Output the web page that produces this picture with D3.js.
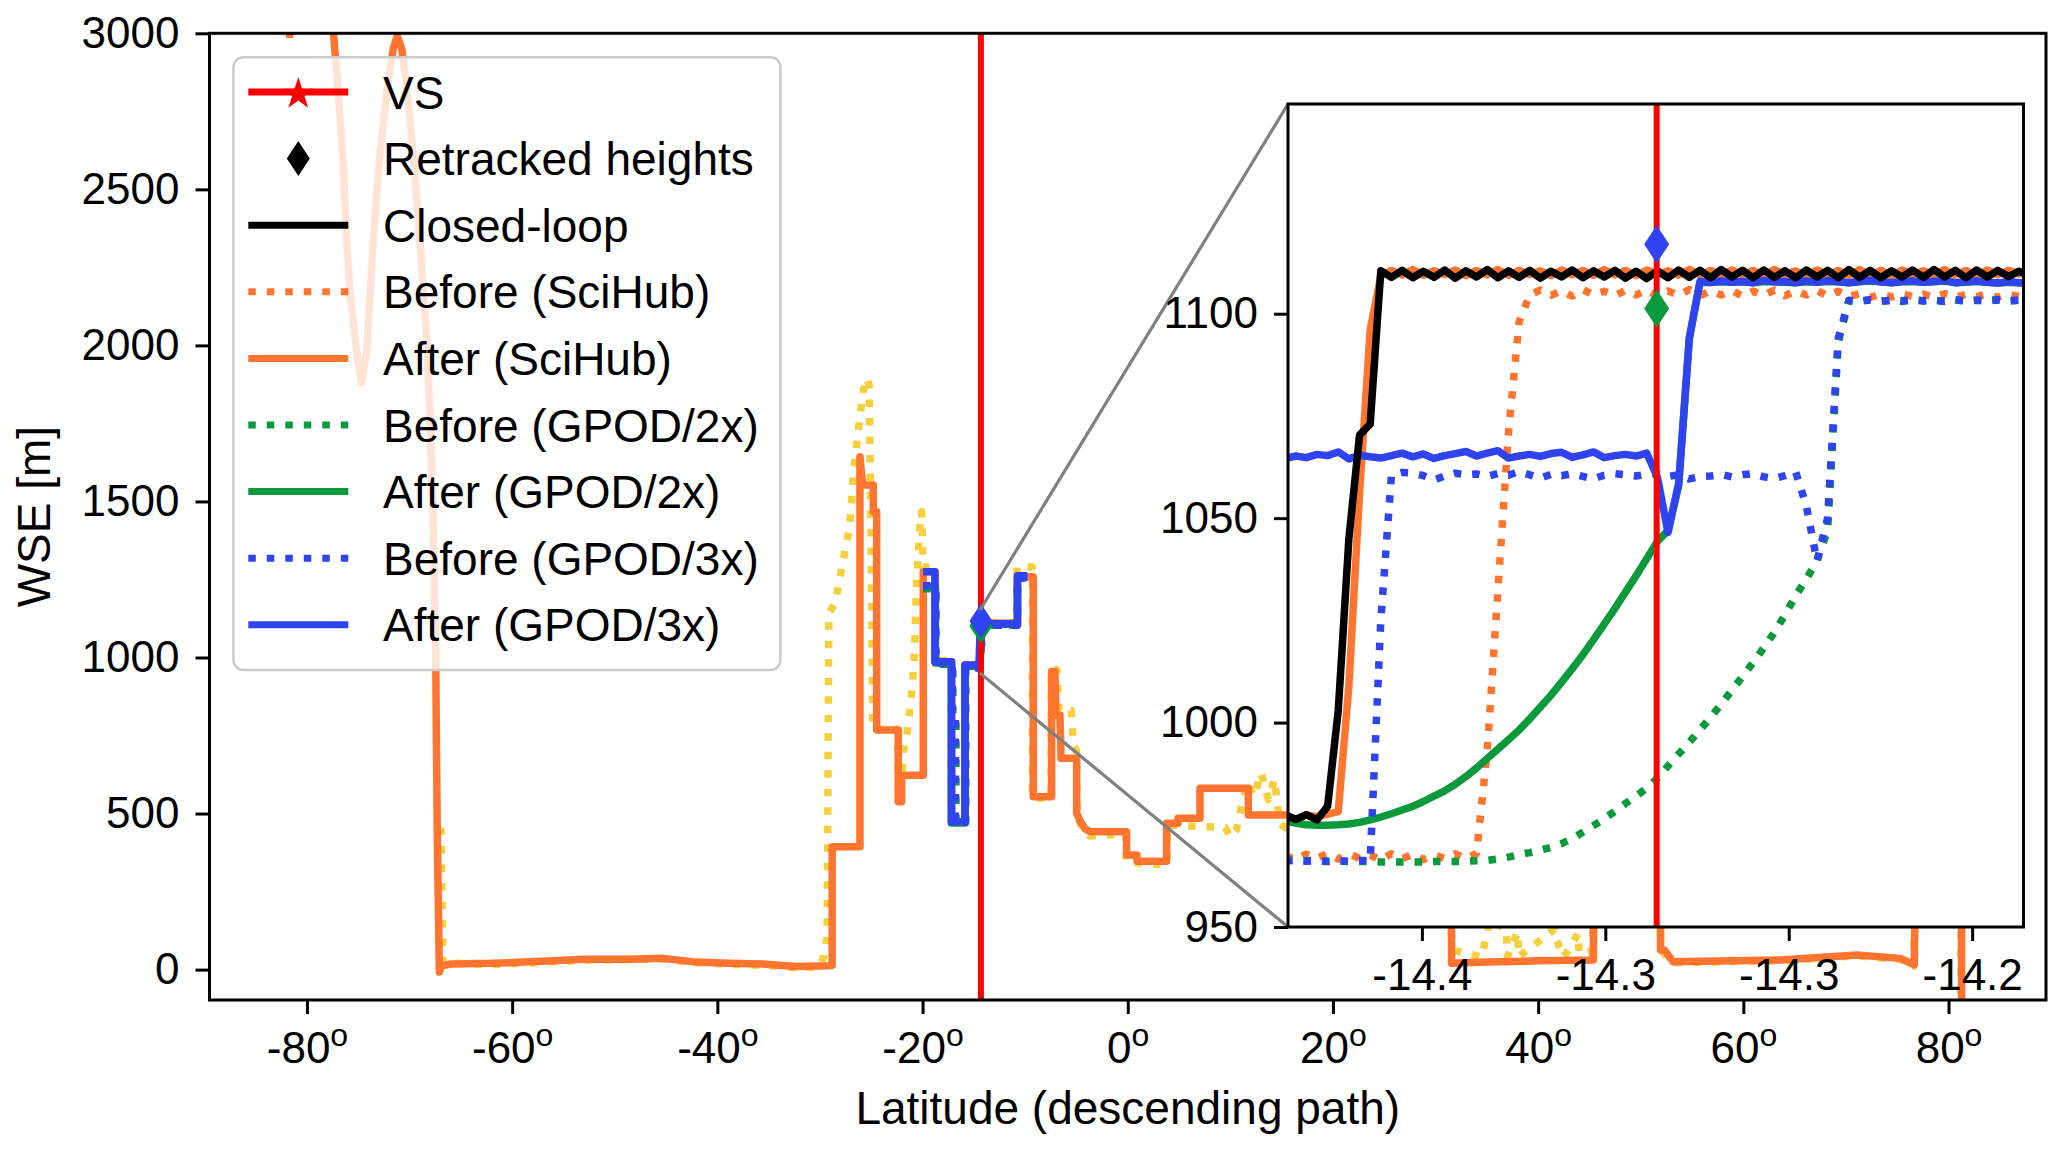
<!DOCTYPE html>
<html>
<head>
<meta charset="utf-8">
<script src="https://cdn.jsdelivr.net/npm/d3@7"></script>
<style>
  body { margin: 0; background: #fff; }
  text { font-family: "Liberation Sans", Arial, Helvetica, sans-serif; }
</style>
</head>
<body>
<div id="visualization"></div>
<script>
// ---- data (latitude in degrees, WSE in metres) ----
var xLimits = [-89.5, 89.5];
var yLimits = [-97.4, 3000];
var xTicks = [-80, -60, -40, -20, 0, 20, 40, 60, 80];
var xTickLabels = ["-80", "-60", "-40", "-20", "0", "20", "40", "60", "80"];
var yTicks = [0, 500, 1000, 1500, 2000, 2500, 3000];

var insetXLimits = [-14.4115, -14.2110];
var insetYLimits = [950, 1151.3];
var insetXTicks = [-14.375, -14.325, -14.275, -14.225];
var insetXTickLabels = ["-14.4", "-14.3", "-14.3", "-14.2"];
var insetYTicks = [950, 1000, 1050, 1100];

var vsLat = -14.311;
var retrackedHeights = [1101.3, 1117.0]; // GPOD/2x, GPOD/3x

// full track (main panel)
var afterSciHubMain = [[-81.7, 2985], [-81.5, 3100], [-79.5, 3600], [-77.8, 3150], [-77.44, 3010], [-76.95, 2812],
  [-76.46, 2575], [-76.13, 2336], [-75.81, 2178], [-75.16, 1980], [-74.67, 1880], [-74.18, 1980], [-73.86, 2158],
  [-73.54, 2336], [-72.89, 2614], [-72.23, 2812], [-71.59, 2951], [-71.2, 2991], [-70.77, 2951], [-70.28, 2832],
  [-69.64, 2614], [-68.99, 2336], [-68.33, 2019], [-68.01, 1781], [-67.69, 1425], [-67.46, 1028], [-67.3, 433],
  [-67.1, -8], [-66.9, 12], [-65.97, 18], [-62, 20], [-58.86, 24], [-56, 28], [-53.04, 33], [-48.52, 33], [-45.3, 36],
  [-42.06, 24], [-38.83, 20], [-35.6, 18], [-32.36, 10], [-29.13, 12], [-28.81, 14], [-28.81, 394], [-26.1, 394],
  [-26.1, 1643], [-25.85, 1553], [-24.8, 1553], [-24.8, 1467], [-24.47, 1467], [-24.47, 768], [-22.37, 768],
  [-22.37, 538], [-22.04, 538], [-22.04, 623], [-19.93, 623], [-19.93, 1275], [-18.79, 1275], [-18.79, 986],
  [-17.17, 986], [-17.17, 474], [-15.87, 474], [-15.87, 976], [-14.42, 977], [-14.39, 1110], [-10.75, 1110],
  [-10.75, 1259], [-9.21, 1259], [-9.21, 554], [-7.42, 554], [-7.42, 955], [-7.1, 955], [-7.0, 816], [-6.61, 816],
  [-6.5, 677], [-4.98, 677], [-4.98, 501], [-4.66, 478], [-4.2, 452], [-3.69, 442], [-0.11, 442], [-0.11, 367],
  [0.9, 367], [0.9, 347], [3.79, 347], [3.79, 469], [4.9, 469], [4.9, 485], [7.04, 485], [7.04, 581], [11.75, 581],
  [11.75, 495], [15.49, 495], [18.0, 510], [22.0, 530], [26.0, 505], [31.56, 500], [31.56, 20], [35.0, 24],
  [40.0, 28], [45.38, 31], [45.5, 520], [51.93, 520], [51.93, 63], [52.3, 63], [53.15, 25], [63.6, 31], [71.07, 47],
  [75.3, 36], [76.66, 15], [76.9, 540], [81.27, 540], [81.27, -400]];

var beforeYellowMain = [[-66.95, 455], [-66.75, 22], [-62, 16], [-58.86, 20], [-53.04, 30], [-45.3, 34], [-42.06, 22],
  [-38.83, 17], [-35.6, 14], [-32.36, 6], [-30.0, 8], [-29.6, 45], [-29.3, 103], [-29.13, 1140], [-28.5, 1178],
  [-27.8, 1300], [-27.1, 1420], [-26.7, 1600], [-26.3, 1720], [-25.8, 1850], [-25.45, 1895], [-25.2, 1870],
  [-25.1, 1600], [-25.0, 1300], [-24.85, 770], [-22.45, 770], [-22.4, 600], [-22.1, 560], [-21.9, 700],
  [-21.55, 746], [-21.06, 885], [-20.8, 1000], [-20.58, 1238], [-20.3, 1400], [-20.09, 1467], [-19.95, 1290],
  [-18.8, 1290], [-18.8, 990], [-17.2, 990], [-17.2, 478], [-15.85, 478], [-15.85, 980], [-14.5, 980],
  [-14.42, 1060], [-14.3, 1112], [-10.8, 1112], [-10.8, 1290], [-9.3, 1290], [-9.3, 550], [-7.5, 550], [-7.45, 970],
  [-6.9, 960], [-6.7, 830], [-5.5, 830], [-5.3, 722], [-5.0, 700], [-4.9, 485], [-4.5, 460], [-3.7, 428],
  [-0.2, 435], [-0.15, 345], [3.8, 335], [3.9, 463], [7.5, 458], [9.5, 455], [10.0, 425], [10.6, 448], [11.6, 600],
  [12.3, 555], [13.0, 630], [13.7, 545], [14.3, 610], [14.8, 470], [15.3, 455], [18, 500], [25, 480], [30.9, 470],
  [31.2, 150], [32.0, 60], [34.5, 40], [35.3, 160], [36.9, 127], [37.0, 41], [38.0, 120], [38.1, 41], [41.6, 130],
  [41.8, 95], [42.5, 40], [43.9, 116], [44.0, 52], [45.3, 60], [45.45, 480], [51.85, 480], [51.95, 63], [53.1, 22],
  [63.6, 28], [71.0, 44], [75.3, 33], [76.6, 12], [76.85, 500], [81.2, 500], [81.2, -400]];

var before2xMain = [[-19.95, 1220], [-18.72, 1220], [-18.72, 978], [-17.05, 978], [-17.05, 821], [-16.75, 821],
  [-16.75, 468], [-15.8, 468], [-15.8, 968], [-14.4, 966], [-14.25, 1050], [-14.22, 1103], [-10.75, 1103],
  [-10.75, 1254], [-9.8, 1254]];
var after2xMain = [[-19.95, 1225], [-18.75, 1225], [-18.75, 982], [-17.2, 982], [-17.2, 470], [-15.85, 470],
  [-15.85, 972], [-14.5, 972], [-14.41, 976], [-14.3, 1046], [-14.27, 1107], [-10.75, 1106], [-10.75, 1258],
  [-9.8, 1258]];
var before3xMain = [[-19.95, 1230], [-18.7, 1230], [-18.7, 982], [-17.1, 982], [-17.1, 830], [-16.8, 830],
  [-16.8, 472], [-15.82, 472], [-15.82, 970], [-14.41, 966], [-14.4, 1060], [-14.26, 1060], [-14.24, 1040],
  [-14.22, 1103], [-10.75, 1103], [-10.75, 1256], [-9.8, 1256]];
var after3xMain = [[-19.95, 1275], [-18.79, 1275], [-18.79, 986], [-17.17, 986], [-17.17, 474], [-15.87, 474],
  [-15.87, 976], [-14.5, 976], [-14.41, 1065], [-14.312, 1066], [-14.3, 1046], [-14.27, 1108], [-10.75, 1108],
  [-10.75, 1262], [-9.8, 1262]];

// zoom around the virtual station (inset), one value per along-track record
var insetLat = [-14.4123, -14.4094, -14.4065, -14.4036, -14.4007, -14.3978, -14.3949, -14.3920, -14.3891, -14.3862,
  -14.3833, -14.3804, -14.3775, -14.3746, -14.3717, -14.3688, -14.3659, -14.3630, -14.3601, -14.3572,
  -14.3543, -14.3514, -14.3485, -14.3456, -14.3427, -14.3398, -14.3369, -14.3340, -14.3311, -14.3282,
  -14.3253, -14.3224, -14.3195, -14.3166, -14.3137, -14.3108, -14.3079, -14.3050, -14.3021, -14.2992,
  -14.2963, -14.2934, -14.2905, -14.2876, -14.2847, -14.2818, -14.2789, -14.2760, -14.2731, -14.2702,
  -14.2673, -14.2644, -14.2615, -14.2586, -14.2557, -14.2528, -14.2499, -14.2470, -14.2441, -14.2412,
  -14.2383, -14.2354, -14.2325, -14.2296, -14.2267, -14.2238, -14.2209, -14.2180, -14.2151, -14.2122,
  -14.2093];

var closedLoop = [977.5, 976.3, 977.5, 976.2, 979.5, 1003, 1045, 1070.3, 1073, 1110.5,
  1108.9, 1110.6, 1108.8, 1110.4, 1108.9, 1110.7, 1108.7, 1110.5, 1109.0, 1110.8,
  1108.8, 1110.5, 1108.9, 1110.6, 1108.7, 1110.4, 1109.0, 1110.7, 1108.8, 1110.5,
  1109.0, 1110.6, 1108.7, 1110.4, 1108.6, 1110.5, 1108.8, 1110.7, 1108.9, 1110.6,
  1108.8, 1110.8, 1109.0, 1110.6, 1108.8, 1110.7, 1108.9, 1110.5, 1108.8, 1110.7,
  1109.0, 1110.6, 1108.8, 1110.8, 1108.9, 1110.6, 1108.8, 1110.5, 1109.0, 1110.7,
  1108.9, 1110.8, 1109.0, 1110.6, 1108.8, 1110.7, 1109.0, 1110.6, 1109.1, 1110.4,
  1109.3];
var beforeSciHub = [967.4, 966.5, 967.8, 966.8, 968.0, 966.6, 967.9, 966.8, 967.6, 966.4,
  967.9, 966.7, 967.8, 966.5, 967.6, 966.8, 967.9, 966.7, 968.0, 993,
  1032, 1071, 1098, 1104.6, 1105.8, 1104.5, 1105.6, 1104.3, 1105.9, 1104.6,
  1105.5, 1104.4, 1105.7, 1104.6, 1105.8, 1104.3, 1105.6, 1104.5, 1105.9, 1104.4,
  1105.6, 1104.6, 1105.7, 1104.3, 1105.5, 1104.5, 1105.8, 1104.4, 1105.6, 1104.6,
  1105.7, 1104.3, 1105.5, 1104.2, 1104.9, 1104.0, 1104.8, 1104.1, 1104.9, 1104.2,
  1104.8, 1104.0, 1104.9, 1104.1, 1104.7, 1104.2, 1104.9, 1104.0, 1104.8, 1104.2,
  1104.6];
var afterSciHub = [977.2, 976.2, 977.4, 977.0, 977.6, 978.2, 1009, 1056, 1096, 1109.3,
  1110.6, 1109.5, 1110.8, 1109.4, 1110.5, 1109.6, 1110.7, 1109.3, 1110.6, 1109.5,
  1110.8, 1109.4, 1110.6, 1109.6, 1110.5, 1109.3, 1110.7, 1109.5, 1110.6, 1109.4,
  1110.8, 1109.5, 1110.6, 1109.3, 1110.7, 1109.6, 1110.5, 1109.4, 1110.8, 1109.5,
  1110.6, 1109.3, 1110.7, 1109.5, 1110.6, 1109.4, 1110.8, 1109.6, 1110.5, 1109.3,
  1110.7, 1109.5, 1110.6, 1109.4, 1110.8, 1109.5, 1110.6, 1109.3, 1110.7, 1109.6,
  1110.5, 1109.4, 1110.8, 1109.5, 1110.6, 1109.3, 1110.7, 1109.5, 1110.6, 1109.7,
  1110.2];
var before2x = [966.4, 966.3, 966.2, 966.2, 966.1, 966.1, 966.0, 966.0, 966.0, 965.9,
  965.9, 965.9, 965.9, 965.9, 966.0, 966.0, 966.0, 966.1, 966.2, 966.3,
  966.6, 967.1, 967.7, 968.2, 968.8, 969.5, 970.4, 971.6, 973.2, 974.8,
  976.5, 978.3, 980.2, 982.0, 984.0, 986.4, 989.4, 992.3, 995.2, 998.2,
  1001.3, 1004.5, 1007.9, 1011.3, 1014.7, 1018.3, 1022.1, 1026.4, 1031.0, 1035.1,
  1039.6, 1047.0, 1093.0, 1103.2, 1103.0, 1103.4, 1103.1, 1103.3, 1103.0, 1103.4,
  1103.2, 1103.3, 1103.1, 1103.4, 1103.0, 1103.3, 1103.2, 1103.4, 1103.1, 1103.3,
  1103.0];
var after2x = [976.0, 975.4, 975.0, 974.9, 974.9, 975.0, 975.2, 975.6, 976.2, 976.9,
  977.7, 978.6, 979.5, 980.7, 982.0, 983.3, 984.9, 986.8, 988.9, 991.2,
  993.5, 995.8, 998.2, 1000.9, 1003.8, 1006.7, 1009.9, 1013.2, 1016.6, 1020.3,
  1024.1, 1027.9, 1031.9, 1035.9, 1040.1, 1044.3, 1047.0, 1058.0, 1094.0, 1107.6,
  1107.7, 1107.8, 1107.7, 1107.8, 1107.6, 1107.9, 1107.8, 1107.7, 1107.6, 1107.8,
  1107.7, 1107.9, 1107.8, 1107.6, 1107.8, 1108.0, 1107.8, 1107.6, 1107.8, 1107.9,
  1107.7, 1107.8, 1108.0, 1107.6, 1107.7, 1107.9, 1107.7, 1107.5, 1107.7, 1107.6,
  1107.4];
var before3x = [966.1, 966.3, 966.1, 966.2, 966.0, 966.2, 966.1, 966.3, 966.2, 1025,
  1060.5, 1061.2, 1061.0, 1060.4, 1059.3, 1060.3, 1061.0, 1060.6, 1060.8, 1060.2,
  1060.9, 1060.5, 1061.4, 1060.6, 1059.8, 1060.7, 1060.4, 1060.9, 1060.2, 1059.6,
  1060.5, 1060.9, 1060.6, 1060.3, 1060.8, 1060.9, 1060.2, 1060.6, 1059.6, 1060.2,
  1060.3, 1060.7, 1060.1, 1060.6, 1060.9, 1060.1, 1059.7, 1060.4, 1061.3, 1053.0,
  1039.5, 1050.0, 1094.0, 1103.3, 1103.1, 1103.4, 1103.0, 1103.3, 1103.2, 1103.4,
  1103.1, 1103.3, 1103.0, 1103.4, 1103.2, 1103.3, 1103.1, 1103.4, 1103.2, 1103.3,
  1103.1];
var after3x = [1064.6, 1065.2, 1064.8, 1065.6, 1065.3, 1066.2, 1064.5, 1065.4, 1065.0, 1064.7,
  1065.3, 1065.9, 1065.0, 1065.7, 1064.6, 1065.3, 1065.8, 1066.3, 1065.2, 1065.9,
  1066.5, 1064.7, 1065.2, 1065.6, 1065.1, 1065.8, 1066.1, 1064.9, 1065.5, 1066.2,
  1064.8, 1065.3, 1065.6, 1065.2, 1065.9, 1060.0, 1046.5, 1058.5, 1094.0, 1107.9,
  1107.6, 1108.0, 1107.7, 1107.9, 1107.6, 1108.1, 1107.8, 1107.9, 1107.6, 1108.0,
  1107.7, 1108.1, 1107.8, 1107.6, 1107.9, 1108.2, 1107.8, 1107.6, 1107.9, 1108.0,
  1107.7, 1107.9, 1108.1, 1107.6, 1107.8, 1108.0, 1107.7, 1107.5, 1107.8, 1107.6,
  1107.4];

var legendLabels = ["VS", "Retracked heights", "Closed-loop", "Before (SciHub)", "After (SciHub)",
  "Before (GPOD/2x)", "After (GPOD/2x)", "Before (GPOD/3x)", "After (GPOD/3x)"];

// ---- styling ----
var colors = {
  red: "#ff0000", black: "#000000", orange: "#ff7530", green: "#0a9a3c",
  blue: "#2f44f0", yellow: "#f5cf3c", grey: "#808080"
};
var lw = 7.5;
var dotDash = "7.5,11";

var W = 2067, H = 1152;
var box = {left: 209.5, right: 2046, top: 33.3, bottom: 1000};
var ibox = {left: 1288, right: 2023.5, top: 104, bottom: 927};

var svg = d3.select("#visualization").append("svg")
  .attr("width", W).attr("height", H)
  .style("background", "#fff");

var x = d3.scaleLinear().domain(xLimits).range([box.left, box.right]);
var y = d3.scaleLinear().domain(yLimits).range([box.bottom, box.top]);
var xi = d3.scaleLinear().domain(insetXLimits).range([ibox.left, ibox.right]);
var yi = d3.scaleLinear().domain(insetYLimits).range([ibox.bottom, ibox.top]);

var defs = svg.append("defs");
defs.append("clipPath").attr("id", "clipMain").append("rect")
  .attr("x", box.left).attr("y", box.top)
  .attr("width", box.right - box.left).attr("height", box.bottom - box.top);
defs.append("clipPath").attr("id", "clipInset").append("rect")
  .attr("x", ibox.left).attr("y", ibox.top)
  .attr("width", ibox.right - ibox.left).attr("height", ibox.bottom - ibox.top);

function diamondPath(cx, cy, hw, hh) {
  return "M" + cx + "," + (cy - hh) + "L" + (cx + hw) + "," + cy +
    "L" + cx + "," + (cy + hh) + "L" + (cx - hw) + "," + cy + "Z";
}

function styleLine(sel, color, dotted, width) {
  sel.attr("fill", "none")
    .attr("stroke", color)
    .attr("stroke-width", width || lw)
    .attr("stroke-linejoin", "round")
    .attr("stroke-linecap", "butt");
  if (dotted) sel.attr("stroke-dasharray", dotDash);
  return sel;
}

// ---- main panel ----
var mainLine = d3.line().x(function(d) { return x(d[0]); }).y(function(d) { return y(d[1]); });
var gMain = svg.append("g").attr("clip-path", "url(#clipMain)");

// zoom box marked on the main axes
gMain.append("rect")
  .attr("x", x(insetXLimits[0])).attr("y", y(insetYLimits[1]))
  .attr("width", x(insetXLimits[1]) - x(insetXLimits[0]))
  .attr("height", y(insetYLimits[0]) - y(insetYLimits[1]))
  .attr("fill", "none").attr("stroke", colors.grey).attr("stroke-width", 2.5);

var mainSeries = [
  {data: beforeYellowMain, color: colors.yellow, dotted: true},
  {data: afterSciHubMain, color: colors.orange, dotted: false},
  {data: before2xMain, color: colors.green, dotted: true},
  {data: after2xMain, color: colors.green, dotted: false},
  {data: before3xMain, color: colors.blue, dotted: true},
  {data: after3xMain, color: colors.blue, dotted: false}
];
mainSeries.forEach(function(s) {
  styleLine(gMain.append("path").attr("d", mainLine(s.data)), s.color, s.dotted);
});

gMain.append("line")
  .attr("x1", x(vsLat)).attr("x2", x(vsLat))
  .attr("y1", box.top).attr("y2", box.bottom)
  .attr("stroke", colors.red).attr("stroke-width", 6);

gMain.append("path").attr("d", diamondPath(x(vsLat), y(retrackedHeights[0]), 11.5, 17.5)).attr("fill", colors.green);
gMain.append("path").attr("d", diamondPath(x(vsLat), y(retrackedHeights[1]), 11.5, 17.5)).attr("fill", colors.blue);

// main axes
var yAxis = svg.append("g").attr("transform", "translate(" + box.left + ",0)")
  .call(d3.axisLeft(y).tickValues(yTicks).tickSize(14).tickPadding(16).tickFormat(d3.format("d")));
var xAxis = svg.append("g").attr("transform", "translate(0," + box.bottom + ")")
  .call(d3.axisBottom(x).tickValues(xTicks).tickSize(14).tickPadding(18)
    .tickFormat(function(d, i) { return xTickLabels[i]; }));

xAxis.selectAll(".tick text").each(function() {
  var t = d3.select(this);
  var label = t.text();
  t.text(null);
  t.append("tspan").text(label);
  t.append("tspan").attr("dy", -17).attr("font-size", 32).text("o");
});

[xAxis, yAxis].forEach(function(a) {
  a.attr("font-size", 44).attr("font-family", null);
  a.select(".domain").remove();
  a.selectAll(".tick line").attr("stroke-width", 3).attr("stroke", "#000");
  a.selectAll(".tick text").attr("fill", "#000");
});

svg.append("rect")
  .attr("x", box.left).attr("y", box.top)
  .attr("width", box.right - box.left).attr("height", box.bottom - box.top)
  .attr("fill", "none").attr("stroke", "#000").attr("stroke-width", 3);

svg.append("text")
  .attr("transform", "translate(49.5," + ((box.top + box.bottom) / 2) + ") rotate(-90)")
  .attr("text-anchor", "middle").attr("font-size", 46)
  .text("WSE [m]");
svg.append("text")
  .attr("x", (box.left + box.right) / 2).attr("y", 1124)
  .attr("text-anchor", "middle").attr("font-size", 46)
  .text("Latitude (descending path)");

// ---- legend ----
var legend = svg.append("g");
legend.append("rect")
  .attr("x", 233.4).attr("y", 57.3).attr("width", 547).attr("height", 612.7)
  .attr("rx", 10).attr("ry", 10)
  .attr("fill", "#fff").attr("fill-opacity", 0.8)
  .attr("stroke", "#cccccc").attr("stroke-width", 2.5);

var legendStyles = [
  {color: colors.red, dotted: false, marker: "star"},
  {color: colors.black, marker: "diamond", noLine: true},
  {color: colors.black, dotted: false},
  {color: colors.orange, dotted: true},
  {color: colors.orange, dotted: false},
  {color: colors.green, dotted: true},
  {color: colors.green, dotted: false},
  {color: colors.blue, dotted: true},
  {color: colors.blue, dotted: false}
];
var rowY = d3.scaleLinear().domain([0, 1]).range([92, 158.6]);
legendLabels.forEach(function(label, i) {
  var cy = rowY(i);
  var st = legendStyles[i];
  if (!st.noLine) {
    styleLine(legend.append("line")
      .attr("x1", 248.3).attr("x2", 348.3).attr("y1", cy).attr("y2", cy), st.color, st.dotted, 7);
  }
  if (st.marker === "star") {
    legend.append("path")
      .attr("d", d3.symbol().type(d3.symbolStar).size(320)())
      .attr("transform", "translate(298.3," + (cy + 2) + ")")
      .attr("fill", st.color);
  }
  if (st.marker === "diamond") {
    legend.append("path").attr("d", diamondPath(298.3, cy, 11.5, 17.5)).attr("fill", st.color);
  }
  legend.append("text")
    .attr("x", 383).attr("y", cy + 16.5)
    .attr("font-size", 46)
    .text(label);
});

// ---- connectors from the zoom box to the inset ----
svg.append("line")
  .attr("x1", x(insetXLimits[0])).attr("y1", y(insetYLimits[1]))
  .attr("x2", ibox.left).attr("y2", ibox.top)
  .attr("stroke", colors.grey).attr("stroke-width", 3.2);
svg.append("line")
  .attr("x1", x(insetXLimits[0])).attr("y1", y(insetYLimits[0]))
  .attr("x2", ibox.left).attr("y2", ibox.bottom)
  .attr("stroke", colors.grey).attr("stroke-width", 3.2);

// ---- inset ----
svg.append("rect")
  .attr("x", ibox.left).attr("y", ibox.top)
  .attr("width", ibox.right - ibox.left).attr("height", ibox.bottom - ibox.top)
  .attr("fill", "#fff");

var insetLine = d3.line()
  .x(function(d, i) { return xi(insetLat[i]); })
  .y(function(d) { return yi(d); });
var gInset = svg.append("g").attr("clip-path", "url(#clipInset)");

var insetSeries = [
  {data: beforeSciHub, color: colors.orange, dotted: true},
  {data: afterSciHub, color: colors.orange, dotted: false},
  {data: before2x, color: colors.green, dotted: true},
  {data: after2x, color: colors.green, dotted: false},
  {data: before3x, color: colors.blue, dotted: true},
  {data: after3x, color: colors.blue, dotted: false},
  {data: closedLoop, color: colors.black, dotted: false}
];
insetSeries.forEach(function(s) {
  styleLine(gInset.append("path").attr("d", insetLine(s.data)), s.color, s.dotted);
});

gInset.append("line")
  .attr("x1", xi(vsLat)).attr("x2", xi(vsLat))
  .attr("y1", ibox.top).attr("y2", ibox.bottom)
  .attr("stroke", colors.red).attr("stroke-width", 6);

gInset.append("path").attr("d", diamondPath(xi(vsLat), yi(retrackedHeights[0]), 12.5, 19)).attr("fill", colors.green);
gInset.append("path").attr("d", diamondPath(xi(vsLat), yi(retrackedHeights[1]), 12.5, 19)).attr("fill", colors.blue);

var yiAxis = svg.append("g").attr("transform", "translate(" + ibox.left + ",0)")
  .call(d3.axisLeft(yi).tickValues(insetYTicks).tickSize(14).tickPadding(16).tickFormat(d3.format("d")));
var xiAxis = svg.append("g").attr("transform", "translate(0," + ibox.bottom + ")")
  .call(d3.axisBottom(xi).tickValues(insetXTicks).tickSize(14).tickPadding(18)
    .tickFormat(function(d, i) { return insetXTickLabels[i]; }));
[xiAxis, yiAxis].forEach(function(a) {
  a.attr("font-size", 44).attr("font-family", null);
  a.select(".domain").remove();
  a.selectAll(".tick line").attr("stroke-width", 3).attr("stroke", "#000");
  a.selectAll(".tick text").attr("fill", "#000");
});

svg.append("rect")
  .attr("x", ibox.left).attr("y", ibox.top)
  .attr("width", ibox.right - ibox.left).attr("height", ibox.bottom - ibox.top)
  .attr("fill", "none").attr("stroke", "#000").attr("stroke-width", 3);
</script>
</body>
</html>
